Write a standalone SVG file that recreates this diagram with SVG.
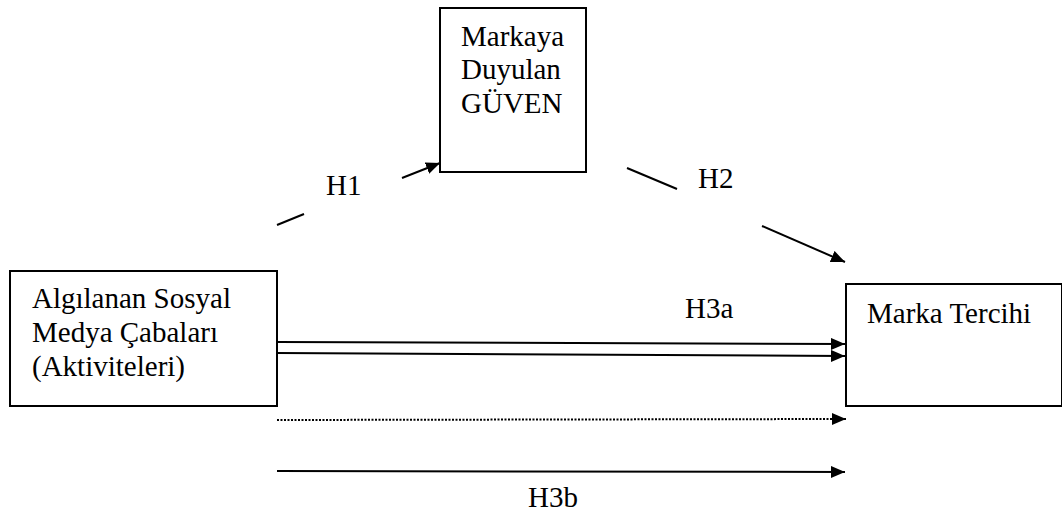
<svg xmlns="http://www.w3.org/2000/svg" width="1062" height="515" viewBox="0 0 1062 515">
<style>
.box{fill:#fff;stroke:#000;stroke-width:2}
.t{font-family:"Liberation Serif","Times New Roman",serif;font-size:29px;fill:#000}
.c{stroke:#000;stroke-width:2;fill:none}
.dot{stroke-dasharray:2 1.5}
</style>
<defs>
<marker id="ah" markerUnits="userSpaceOnUse" markerWidth="15" markerHeight="13" refX="14" refY="6" orient="auto">
<path d="M0,0 L14,6 L0,12 z" fill="#000"/>
</marker>
</defs>
<rect width="1062" height="515" fill="#fff"/>
<g id="connectors">
<line class="c" x1="277" y1="225" x2="304" y2="214"/>
<line class="c" x1="402" y1="178" x2="440" y2="163" marker-end="url(#ah)"/>
<line class="c" x1="627" y1="168" x2="677" y2="189"/>
<line class="c" x1="762" y1="226" x2="845" y2="262" marker-end="url(#ah)"/>
<line class="c" x1="277" y1="342" x2="845" y2="344" marker-end="url(#ah)"/>
<line class="c" x1="277" y1="353" x2="845" y2="356" marker-end="url(#ah)"/>
<line class="c dot" x1="277" y1="420" x2="846" y2="419" marker-end="url(#ah)"/>
<line class="c" x1="277" y1="471" x2="845" y2="472" marker-end="url(#ah)"/>
<text class="t" x="326" y="195">H1</text>
<text class="t" x="698" y="188">H2</text>
<text class="t" x="685" y="318">H3a</text>
<text class="t" x="528" y="507">H3b</text>
</g>
<g id="node-guven">
<rect class="box" x="440" y="8" width="146" height="164"/>
<text class="t" x="461" y="46">Markaya</text>
<text class="t" x="461" y="79">Duyulan</text>
<text class="t" x="461" y="113">GÜVEN</text>
</g>
<g id="node-sosyal">
<rect class="box" x="10" y="271" width="267" height="135"/>
<text class="t" x="32" y="308">Algılanan Sosyal</text>
<text class="t" x="32" y="342">Medya Çabaları</text>
<text class="t" x="32" y="376">(Aktiviteleri)</text>
</g>
<g id="node-tercih">
<rect class="box" x="846" y="284" width="216" height="122"/>
<text class="t" x="867" y="323">Marka Tercihi</text>
</g>
</svg>
